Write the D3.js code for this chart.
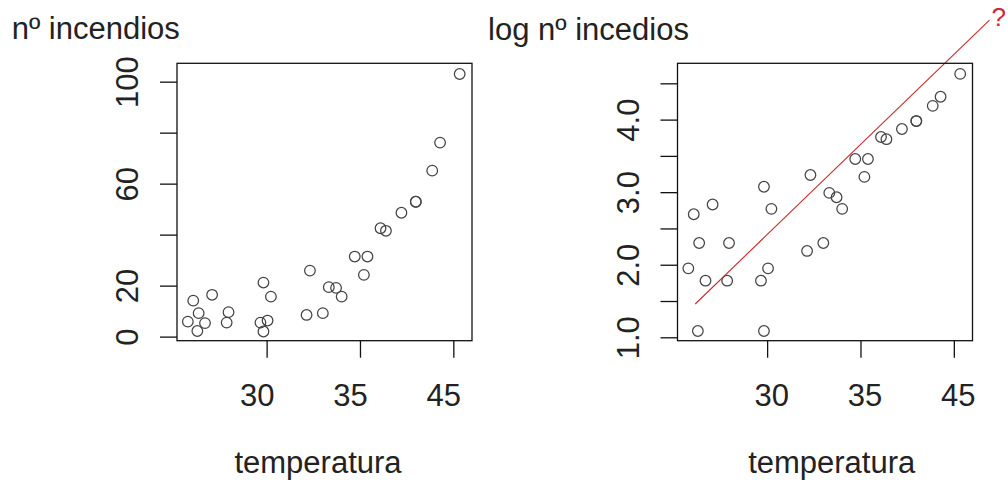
<!DOCTYPE html>
<html>
<head>
<meta charset="utf-8">
<script src="https://cdn.jsdelivr.net/npm/d3@7"></script>
<style>
  html, body { margin: 0; padding: 0; background: #fff; }
  svg { display: block; font-family: "Liberation Sans", Arial, sans-serif; }
</style>
</head>
<body>
<svg id="chart" width="1008" height="485"></svg>
<script>
// ---- data ----
const temperatura = [25.78, 26.07, 26.36, 26.29, 26.70, 27.08, 27.96, 27.86, 29.83, 30.23,
                     29.67, 30.05, 29.83, 32.32, 32.14, 33.01, 33.33, 33.72, 34.02, 34.72,
                     35.40, 35.21, 36.10, 36.39, 37.22, 37.99, 37.99, 38.87, 39.29, 40.34];
const incendios = [5.9, 14.1, 9.2, 2.2, 5.3, 16.4, 9.6, 5.5, 21.2, 15.7,
                   5.5, 6.3, 2.0, 25.9, 8.5, 9.2, 19.4, 19.1, 15.7, 31.4,
                   31.4, 24.2, 42.5, 41.5, 48.6, 52.9, 52.9, 65.1, 76.1, 103.0];
const logIncendios = [1.95, 2.695, 2.30, 1.087, 1.78, 2.83, 2.30, 1.78, 3.075, 2.77,
                      1.78, 1.95, 1.087, 3.236, 2.19, 2.30, 2.99, 2.93, 2.77, 3.457,
                      3.457, 3.21, 3.76, 3.73, 3.87, 3.98, 3.98, 4.19, 4.315, 4.63];
const fitLineX = [26.15, 41.91];
const fitLineY = [1.459, 5.372];

const xTicks = [30, 35, 40];
const xTickLabels = ["30", "35", "45"];
const yTicksLeft = [0, 20, 40, 60, 80, 100];
const yTickLabelsLeft = ["0", "20", "", "60", "", "100"];
const yTicksRight = [1.0, 1.5, 2.0, 2.5, 3.0, 3.5, 4.0, 4.5];
const yTickLabelsRight = ["1.0", "", "2.0", "", "3.0", "", "4.0", ""];

const xLabel = "temperatura";
const yTitleLeft = "nº incendios";
const yTitleRight = "log nº incedios";

// ---- layout ----
const svg = d3.select("#chart");
const FS = 31;
const boxTop = 63.3, boxBottom = 340.7, W = 295;
const panels = [
  { left: 177, ys: yTicksLeft, yl: yTickLabelsLeft, vals: incendios, ydom: [-1.6, 107.2],
    title: yTitleLeft, titleX: 11.7, titleY: 39, labDx: -10, xlabX: 318 },
  { left: 677.5, ys: yTicksRight, yl: yTickLabelsRight, vals: logIncendios, ydom: [0.953, 4.776],
    title: yTitleRight, titleX: 488, titleY: 40, labDx: 4, xlabX: 831.7, fit: true }
];

panels.forEach(p => {
  const x = d3.scaleLinear().domain([25.2, 41.0]).range([p.left, p.left + W]);
  const y = d3.scaleLinear().domain(p.ydom).range([boxBottom, boxTop]);
  const g = svg.append("g");

  // points
  g.selectAll("circle").data(temperatura).join("circle")
    .attr("cx", (d) => x(d))
    .attr("cy", (d, i) => y(p.vals[i]))
    .attr("r", 5.3)
    .attr("fill", "none")
    .attr("stroke", "#444")
    .attr("stroke-width", 1.25);

  // fit line
  if (p.fit) {
    const pts = fitLineX.map((d, i) => [x(d), y(fitLineY[i])]);
    g.append("path")
      .attr("d", d3.line()(pts))
      .attr("fill", "none")
      .attr("stroke", "#cc2a2a")
      .attr("stroke-width", 1.1);
    const end = pts[pts.length - 1];
    g.append("text")
      .attr("x", end[0] + 2).attr("y", end[1] + 6)
      .attr("font-size", 26)
      .attr("fill", "#cc2a3a")
      .text("?");
  }

  // box
  g.append("rect")
    .attr("x", p.left).attr("y", boxTop)
    .attr("width", W).attr("height", boxBottom - boxTop)
    .attr("fill", "none").attr("stroke", "#111").attr("stroke-width", 1.3);

  // x axis
  const xa = g.append("g").attr("transform", `translate(0,${boxBottom})`)
    .call(d3.axisBottom(x).tickValues(xTicks).tickSize(17).tickPadding(26)
      .tickFormat((d, i) => xTickLabels[i]));
  xa.select(".domain").remove();
  xa.selectAll("line").attr("stroke", "#111").attr("stroke-width", 1.3);
  xa.selectAll("text").attr("font-size", FS).attr("fill", "#222")
    .attr("font-family", "Liberation Sans, Arial, sans-serif").attr("dx", p.labDx);

  // y axis
  const ya = g.append("g").attr("transform", `translate(${p.left},0)`)
    .call(d3.axisLeft(y).tickValues(p.ys).tickSize(17)
      .tickFormat((d, i) => p.yl[i]));
  ya.select(".domain").remove();
  ya.selectAll("line").attr("stroke", "#111").attr("stroke-width", 1.3);
  ya.selectAll("text")
    .attr("x", null).attr("dy", null)
    .attr("text-anchor", "middle")
    .attr("transform", "translate(-39,0) rotate(-90)")
    .attr("font-size", FS).attr("fill", "#222")
    .attr("font-family", "Liberation Sans, Arial, sans-serif");

  // titles
  svg.append("text").attr("x", p.titleX).attr("y", p.titleY)
    .attr("font-size", FS).attr("fill", "#222").text(p.title);
  svg.append("text").attr("x", p.xlabX).attr("y", 472.5)
    .attr("text-anchor", "middle")
    .attr("font-size", FS).attr("fill", "#222").text(xLabel);
});
</script>
</body>
</html>
